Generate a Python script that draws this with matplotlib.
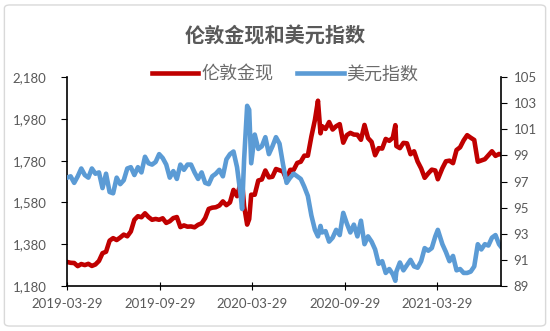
import numpy as np
import pandas as pd
import matplotlib
matplotlib.use("Agg")
from matplotlib import pyplot as plt
import matplotlib.dates as mdates
from matplotlib.patches import FancyBboxPatch

plt.rcParams['font.family'] = ['Noto Sans CJK SC', 'DejaVu Sans']

dates = [
    "2019-03-29", "2019-04-05", "2019-04-12", "2019-04-19", "2019-04-26", "2019-05-03", "2019-05-10",
    "2019-05-17", "2019-05-24", "2019-05-31", "2019-06-07", "2019-06-14", "2019-06-21", "2019-06-28",
    "2019-07-05", "2019-07-12", "2019-07-19", "2019-07-26", "2019-08-02", "2019-08-09", "2019-08-16",
    "2019-08-23", "2019-08-30", "2019-09-06", "2019-09-13", "2019-09-20", "2019-09-27", "2019-10-04",
    "2019-10-11", "2019-10-18", "2019-10-25", "2019-11-01", "2019-11-08", "2019-11-15", "2019-11-22",
    "2019-11-29", "2019-12-06", "2019-12-13", "2019-12-20", "2019-12-27",
    "2020-01-03", "2020-01-10", "2020-01-17", "2020-01-24", "2020-01-31", "2020-02-07", "2020-02-14",
    "2020-02-21", "2020-02-28", "2020-03-06", "2020-03-09", "2020-03-13", "2020-03-19", "2020-03-23",
    "2020-03-27", "2020-04-03", "2020-04-10", "2020-04-17", "2020-04-24", "2020-05-01", "2020-05-08",
    "2020-05-15", "2020-05-22", "2020-05-29", "2020-06-05", "2020-06-12", "2020-06-19", "2020-06-26",
    "2020-07-03", "2020-07-10", "2020-07-17", "2020-07-24", "2020-07-31", "2020-08-06", "2020-08-11",
    "2020-08-14", "2020-08-21", "2020-08-28", "2020-09-04", "2020-09-11", "2020-09-18", "2020-09-25",
    "2020-10-02", "2020-10-09", "2020-10-16", "2020-10-23", "2020-10-30", "2020-11-06", "2020-11-13",
    "2020-11-20", "2020-11-27", "2020-12-04", "2020-12-11", "2020-12-18", "2020-12-25",
    "2021-01-01", "2021-01-06", "2021-01-08", "2021-01-15", "2021-01-22", "2021-01-29", "2021-02-05",
    "2021-02-12", "2021-02-19", "2021-02-26", "2021-03-05", "2021-03-12", "2021-03-19", "2021-03-26",
    "2021-03-31", "2021-04-09", "2021-04-16", "2021-04-23", "2021-04-30", "2021-05-07", "2021-05-14",
    "2021-05-21", "2021-05-28", "2021-06-04", "2021-06-11", "2021-06-18", "2021-06-25", "2021-07-02",
    "2021-07-09", "2021-07-16", "2021-07-23", "2021-07-30", "2021-08-03",
]

# 伦敦金现
gold = [
    1295, 1291, 1290, 1275, 1285, 1280, 1286,
    1276, 1283, 1300, 1337, 1344, 1397, 1409,
    1400, 1412, 1426, 1418, 1441, 1497, 1514,
    1509, 1528, 1510, 1497, 1501, 1497, 1504,
    1482, 1490, 1505, 1510, 1462, 1470, 1464,
    1465, 1461, 1473, 1480, 1505,
    1549, 1555, 1557, 1565, 1585, 1567, 1580,
    1640, 1610, 1673, 1680, 1562, 1474, 1500,
    1617, 1617, 1685, 1690, 1733, 1700, 1703,
    1740, 1734, 1728, 1688, 1736, 1736, 1769,
    1775, 1804, 1804, 1896, 1975, 2067, 1911,
    1945, 1932, 1965, 1929, 1945, 1955, 1866,
    1902, 1913, 1905, 1904, 1880, 1951, 1888,
    1870, 1806, 1840, 1838, 1884, 1875,
    1890, 1950, 1850, 1840, 1865, 1863, 1811,
    1825, 1776, 1743, 1698, 1719, 1737, 1733,
    1691, 1744, 1777, 1780, 1768, 1831, 1844,
    1877, 1902, 1890, 1879, 1775, 1781, 1787,
    1806, 1825, 1803, 1812, 1810,
]

# 美元指数
dxy = [
    97.3, 97.4, 96.9, 97.4, 98.0, 97.5, 97.3,
    98.0, 97.6, 97.7, 96.5, 97.6, 96.2, 96.1,
    97.3, 96.8, 97.1, 98.0, 98.1, 97.5, 98.1,
    97.7, 98.9, 98.4, 98.3, 98.5, 99.1, 98.8,
    98.3, 97.3, 97.8, 97.2, 98.3, 97.9, 98.3,
    98.3, 97.7, 97.2, 97.7, 96.9,
    96.8, 97.4, 97.6, 97.9, 97.4, 98.7, 99.1,
    99.3, 98.1, 96.0, 94.9, 98.7, 102.8, 102.5,
    98.4, 100.6, 99.5, 99.7, 100.4, 99.1, 99.7,
    100.4, 99.9, 98.3, 96.9, 97.3, 97.6, 97.4,
    97.2, 96.6, 95.9, 94.4, 93.3, 92.8, 93.6,
    93.1, 93.2, 92.4, 92.7, 93.3, 92.9, 94.6,
    93.8, 93.1, 93.7, 92.8, 94.0, 92.2, 92.8,
    92.4, 91.8, 90.7, 90.9, 90.0, 90.3,
    89.9, 89.4, 90.1, 90.8, 90.2, 90.6, 91.0,
    90.5, 90.4, 90.9, 91.9, 91.7, 91.9, 92.8,
    93.3, 92.2, 91.6, 90.9, 91.3, 90.2, 90.3,
    90.0, 90.0, 90.1, 90.5, 92.2, 91.8, 92.2,
    92.1, 92.7, 92.9, 92.2, 92.0,
]

xtick_labels = ["2019-03-29", "2019-09-29", "2020-03-29", "2020-09-29", "2021-03-29"]
left_ticks = [1180, 1380, 1580, 1780, 1980, 2180]
right_ticks = [89, 91, 93, 95, 97, 99, 101, 103, 105]

x = pd.to_datetime(dates)
grey = "#595959"
tickfont = ['Lato', 'DejaVu Sans']

fig = plt.figure(figsize=(5.5, 3.31), dpi=100)
fig.patches.append(FancyBboxPatch((0.008, 0.015), 0.984, 0.97, boxstyle="round,pad=0,rounding_size=0.01",
                                  transform=fig.transFigure, fill=False, edgecolor="#d9d9d9", lw=1))
ax = fig.add_axes([0.122, 0.136, 0.789, 0.631])
ax2 = ax.twinx()

l1, = ax.plot(x, gold, color="#c00000", lw=3.3, solid_joinstyle="round", label="伦敦金现")
l2, = ax2.plot(x, dxy, color="#5b9bd5", lw=3.3, solid_joinstyle="round", label="美元指数")

ax.set_ylim(1180, 2180)
ax.set_yticks(left_ticks)
ax.set_yticklabels([f"{v:,}" for v in left_ticks])
ax2.set_ylim(89, 105)
ax2.set_yticks(right_ticks)
ax.set_xlim(pd.Timestamp("2019-03-29"), pd.Timestamp("2021-08-03"))
ax.set_xticks(pd.to_datetime(xtick_labels))
ax.xaxis.set_major_formatter(mdates.DateFormatter("%Y-%m-%d"))

for a in (ax, ax2):
    a.spines["top"].set_visible(False)
    for s in ("left", "right", "bottom"):
        a.spines[s].set_color("black")
        a.spines[s].set_linewidth(1.2)
ax.spines["right"].set_visible(False)
ax2.spines["left"].set_visible(False)
ax2.spines["bottom"].set_visible(False)

ax.tick_params(axis="y", direction="out", length=4, colors="black", labelcolor=grey, labelsize=9.5, pad=11)
ax2.tick_params(axis="y", direction="out", length=4, colors="black", labelcolor=grey, labelsize=9.5, pad=5)
ax.tick_params(axis="x", direction="inout", length=6, colors="black", labelcolor=grey, labelsize=9.5, pad=6)
for lab in ax.get_xticklabels() + ax.get_yticklabels() + ax2.get_yticklabels():
    lab.set_family(tickfont)

fig.text(0.5, 0.891, "伦敦金现和美元指数", ha="center", va="center", fontsize=14.5, fontweight="bold", color=grey)
fig.legend(handles=[l1, l2], loc="center", bbox_to_anchor=(0.518, 0.775), ncol=2, frameon=False,
           prop={'size': 13, 'weight': 'light'}, labelcolor="#6b6b6b", handlelength=2.6,
           columnspacing=1.3, handletextpad=0.15)

fig.savefig("out.png", dpi=100)
